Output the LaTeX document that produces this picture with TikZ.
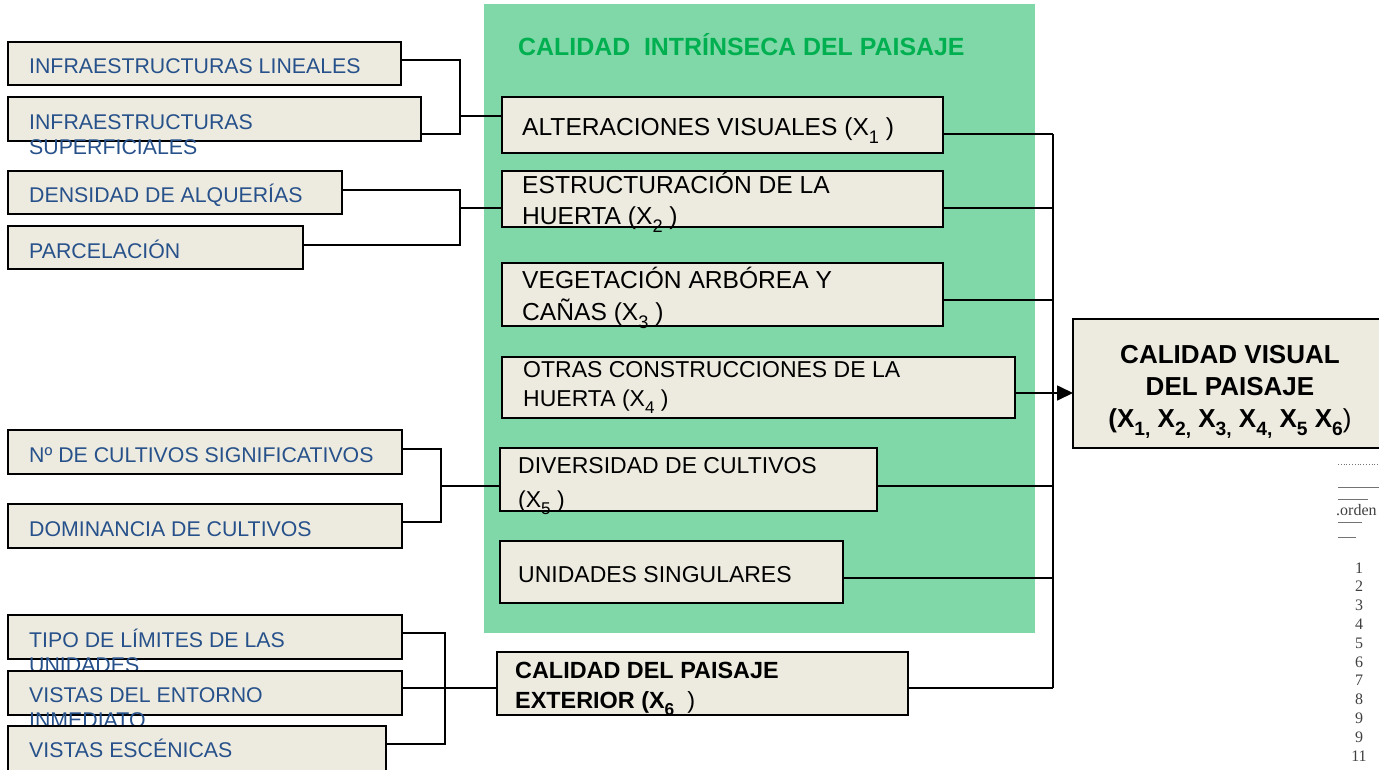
\documentclass[tikz,border=0pt]{standalone}
\usepackage{fontspec}
\usepackage{graphicx}
\setmainfont{Liberation Sans}
\newfontfamily\seriffrag{Liberation Serif}
\usetikzlibrary{arrows.meta}
\definecolor{boxfill}{HTML}{EDEBE0}
\definecolor{panelgreen}{HTML}{80D8A8}
\definecolor{titlegreen}{HTML}{00B050}
\definecolor{leftblue}{HTML}{27518A}
\newcommand\sbx[1]{\raisebox{-0.34em}{\scalebox{0.74}{#1}}}
\begin{document}
\begin{tikzpicture}[x=1pt,y=-1pt,
  boxnode/.style={draw=black, line width=1.9pt, fill=boxfill, inner sep=0pt, outer sep=0pt, anchor=north west, rectangle},
  lefttext/.style={anchor=base west, inner sep=0pt, text=leftblue, font=\fontsize{21.3}{25}\selectfont},
  midtext/.style={anchor=base west, inner sep=0pt, text=black, font=\fontsize{24.6}{30}\selectfont},
  smalltext/.style={anchor=base west, inner sep=0pt, text=black, font=\fontsize{23}{28}\selectfont},
  boldtext/.style={anchor=base west, inner sep=0pt, text=black, font=\bfseries\fontsize{23.4}{30}\selectfont},
  conn/.style={line width=1.7pt, draw=black},
  fragtext/.style={inner sep=0pt, text=black!75, font=\seriffrag\fontsize{16}{18}\selectfont},
  fragline/.style={draw=black!55, line width=0.8pt}]
\useasboundingbox (0,0) rectangle (1379,769);
\clip (0,0) rectangle (1379,769);
\fill[white] (0,0) rectangle (1379,769);

% green panel
\node[fill=panelgreen, minimum width=551pt, minimum height=629pt, anchor=north west, inner sep=0pt, outer sep=0pt] (panel) at (484,4) {};
\node[anchor=base west, inner sep=0pt, text=titlegreen, font=\bfseries\fontsize{24.9}{30}\selectfont] (title) at (518,55) {CALIDAD\ \ INTRÍNSECA DEL PAISAJE};

% junction / bus coordinates
\coordinate (jA) at (460,116);
\coordinate (jB) at (460,208);
\coordinate (jC) at (441,486);
\coordinate (jD) at (445,688);
\coordinate (busT) at (1053,134);
\coordinate (busB) at (1053,688);

% middle boxes
\node[boxnode, minimum width=441pt, minimum height=56pt] (ALT) at (502,97) {};
\node[midtext] (tALT) at (522,135) {ALTERACIONES VISUALES (X\sbx{1} )};
\node[boxnode, minimum width=441pt, minimum height=56pt] (EST) at (502,171) {};
\node[midtext] (tESTa) at (522,193) {ESTRUCTURACIÓN DE LA};
\node[midtext] (tESTb) at (522,224) {HUERTA (X\sbx{2} )};
\node[boxnode, minimum width=441pt, minimum height=63pt] (VEG) at (502,263) {};
\node[midtext] (tVEGa) at (522,288) {VEGETACIÓN ARBÓREA Y};
\node[midtext] (tVEGb) at (522,320) {CAÑAS (X\sbx{3} )};
\node[boxnode, minimum width=513pt, minimum height=61pt] (OTR) at (502,357) {};
\node[smalltext] (tOTRa) at (523,377) {OTRAS CONSTRUCCIONES DE LA};
\node[smalltext] (tOTRb) at (523,406) {HUERTA (X\sbx{4} )};
\node[boxnode, minimum width=377pt, minimum height=63pt] (DIV) at (500,448) {};
\node[smalltext] (tDIVa) at (518,473) {DIVERSIDAD DE CULTIVOS};
\node[smalltext] (tDIVb) at (518,507) {(X\sbx{5} )};
\node[boxnode, minimum width=343pt, minimum height=62pt] (UNI) at (500,541) {};
\node[smalltext] (tUNI) at (518,582) {UNIDADES SINGULARES};
\node[boxnode, minimum width=411pt, minimum height=63pt] (EXT) at (497,652) {};
\node[boldtext] (tEXTa) at (515,678) {CALIDAD DEL PAISAJE};
\node[boldtext] (tEXTb) at (515,708) {EXTERIOR (X\sbx{6}\ \ {\mdseries)}};

% final box
\node[boxnode, minimum width=316pt, minimum height=129pt] (CV) at (1073,319) {};
\node[anchor=base, inner sep=0pt, font=\bfseries\fontsize{26}{32}\selectfont] (tCVa) at (1230,363) {CALIDAD VISUAL};
\node[anchor=base, inner sep=0pt, font=\bfseries\fontsize{26}{32}\selectfont] (tCVb) at (1230,395) {DEL PAISAJE};
\node[anchor=base, inner sep=0pt, font=\bfseries\fontsize{26}{32}\selectfont] (tCVc) at (1230,427) {(X\sbx{1,} X\sbx{2,} X\sbx{3,} X\sbx{4,} X\sbx{5} X\sbx{6}{\mdseries)}};

% left boxes
\node[boxnode, minimum width=393pt, minimum height=43pt] (L1) at (8,42) {};
\node[lefttext] (tL1) at (29,73) {INFRAESTRUCTURAS LINEALES};
\node[boxnode, minimum width=413pt, minimum height=44pt] (L2) at (8,97) {};
\node[lefttext] (tL2a) at (29,129) {INFRAESTRUCTURAS};
\node[lefttext] (tL2b) at (29,154) {SUPERFICIALES};
\node[boxnode, minimum width=334pt, minimum height=43pt] (L3) at (8,171) {};
\node[lefttext] (tL3) at (29,202) {DENSIDAD DE ALQUERÍAS};
\node[boxnode, minimum width=295pt, minimum height=43pt] (L4) at (8,226) {};
\node[lefttext] (tL4) at (29,258) {PARCELACIÓN};
\node[boxnode, minimum width=394pt, minimum height=44pt] (L5) at (8,430) {};
\node[lefttext] (tL5) at (29,462) {Nº DE CULTIVOS SIGNIFICATIVOS};
\node[boxnode, minimum width=394pt, minimum height=44pt] (L6) at (8,504) {};
\node[lefttext] (tL6) at (29,536) {DOMINANCIA DE CULTIVOS};
\node[boxnode, minimum width=394pt, minimum height=44pt] (L7) at (8,615) {};
\node[lefttext] (tL7a) at (29,647) {TIPO DE LÍMITES DE LAS};
\node[lefttext] (tL7b) at (29,672) {UNIDADES};
\node[boxnode, minimum width=394pt, minimum height=44pt] (L8) at (8,671) {};
\node[lefttext] (tL8a) at (29,702) {VISTAS DEL ENTORNO};
\node[lefttext] (tL8b) at (29,727) {INMEDIATO};
\node[boxnode, minimum width=378pt, minimum height=60pt] (L9) at (8,726) {};
\node[lefttext] (tL9) at (29,757) {VISTAS ESCÉNICAS};

% left connectors
\draw[conn] ([yshift=3.5pt]L1.east) -| (jA) |- ([yshift=-15pt]L2.east);
\draw[conn] (jA) -- ([yshift=9pt]ALT.west);
\draw[conn] ([yshift=2.5pt]L3.east) -| (jB) |- ([yshift=2.5pt]L4.east);
\draw[conn] (jB) -- ([yshift=-9pt]EST.west);
\draw[conn] ([yshift=3pt]L5.east) -| (jC) |- ([yshift=4pt]L6.east);
\draw[conn] (jC) -- ([yshift=-6.5pt]DIV.west);
\draw[conn] ([yshift=4pt]L7.east) -| (jD) |- ([yshift=12pt]L9.east);
\draw[conn] ([yshift=5pt]L8.east) -- ([yshift=-4.5pt]EXT.west);

% right connectors
\draw[conn] (busT) -- (busB);
\draw[conn] ([yshift=-9pt]ALT.east) -- (busT);
\draw[conn] ([yshift=-9pt]EST.east) -- ([yshift=-9pt]EST.east -| busT);
\draw[conn] ([yshift=-5.5pt]VEG.east) -- ([yshift=-5.5pt]VEG.east -| busT);
\draw[conn] ([yshift=-6.5pt]DIV.east) -- ([yshift=-6.5pt]DIV.east -| busT);
\draw[conn] ([yshift=-6pt]UNI.east) -- ([yshift=-6pt]UNI.east -| busT);
\draw[conn] ([yshift=-4.5pt]EXT.east) -- (busB);
\draw[conn, -{Triangle[length=16pt,width=15pt]}] ([yshift=-5.5pt]OTR.east) -- ([yshift=-5.5pt]OTR.east -| CV.west);

% scanned fragment at bottom right
\draw[fragline, dotted] (1338,464) -- (1379,464);
\draw[fragline] (1338,487) -- (1379,487);
\draw[fragline] (1338,499) -- (1368,499);
\draw[fragline] (1338,522) -- (1362,522);
\draw[fragline] (1338,537) -- (1356,537);
\node[fragtext, anchor=base west] (orden) at (1336,515) {.orden};
\foreach \n [count=\i from 0] in {1,2,3,4,5,6,7,8,9,9,11}
  \node[fragtext, anchor=base] (num\i) at (1359,{573+18.8*\i}) {\n};
\end{tikzpicture}
\end{document}
